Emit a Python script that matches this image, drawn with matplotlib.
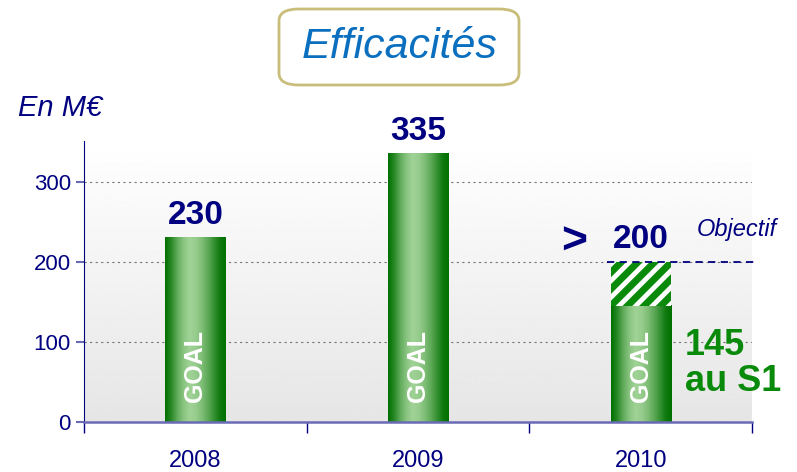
import numpy as np
import matplotlib
matplotlib.use('Agg')
import matplotlib.pyplot as plt
from matplotlib.patches import FancyBboxPatch, Rectangle

plt.rcParams['font.family'] = ['Liberation Sans', 'DejaVu Sans']
plt.rcParams['hatch.linewidth'] = 5

years = ['2008', '2009', '2010']
values = [230, 335, 145]
labels = ['230', '335', '200']
objectif = 200
s1_value = 145
yticks = [0, 100, 200, 300]

navy = '#000080'
axis_col = '#6b6bb5'

fig = plt.figure(figsize=(7.97, 4.72), dpi=100)
ax = fig.add_axes([84/797, 50/472, 668/797, 281/472])
ax.set_xlim(-0.5, 2.5)
ax.set_ylim(0, 351)

# background gradient (white at top -> light grey at bottom)
bg = np.linspace(0.90, 1.0, 256).reshape(-1, 1)
ax.imshow(bg, cmap='gray', vmin=0, vmax=1, extent=[-0.5, 2.5, 0, 351],
          origin='lower', aspect='auto', zorder=0)

for y in yticks[1:]:
    ax.axhline(y, color='#777777', ls=(0, (2, 3)), lw=0.8, zorder=1)

# green gradient for the bars
prof = np.array([0.0, 0.25, 0.6, 0.85, 1.0, 0.95, 0.8, 0.6, 0.35, 0.1, 0.0])
xs = np.linspace(0, 1, len(prof))
xx = np.linspace(0, 1, 200)
p = np.interp(xx, xs, prof)
dark = np.array([0, 112, 0]) / 255
light = np.array([160, 210, 150]) / 255
grad = (dark[None, :] * (1 - p[:, None]) + light[None, :] * p[:, None])[None, :, :]

w = 0.27
for i, v in enumerate(values):
    ax.imshow(grad, extent=[i - w/2, i + w/2, 0, v], aspect='auto', zorder=2)
    ax.text(i, 70, 'GOAL', rotation=90, color='white', fontsize=18,
            fontweight='bold', ha='center', va='center', zorder=4)

# hatched part of 2010 up to objective
ax.add_patch(Rectangle((2 - w/2, s1_value), w, objectif - s1_value,
                       facecolor='white', edgecolor='#0a8a0a', hatch='//',
                       lw=0, zorder=2))

for i, (v, t) in enumerate(zip([230, 335, 200], labels)):
    ax.text(i, v + 28, t, color=navy, fontsize=24, fontweight='bold',
            ha='center', va='center')

ax.text(1.70, 224, '>', color=navy, fontsize=32, fontweight='bold',
        ha='center', va='center')
ax.text(2.43, 240, 'Objectif', color=navy, fontsize=17, style='italic',
        ha='center', va='center', clip_on=False)
ax.plot([1.85, 2.52], [objectif, objectif], color=navy, ls=(0, (4, 3)),
        lw=1.3, clip_on=False, zorder=3)
ax.text(2.2, 95, '145', color='#0a8a0a', fontsize=26, fontweight='bold',
        ha='left', va='center')
ax.text(2.2, 50, 'au S1', color='#0a8a0a', fontsize=26, fontweight='bold',
        ha='left', va='center')

# axes styling
for s in ['top', 'right']:
    ax.spines[s].set_visible(False)
ax.spines['left'].set_color(navy)
ax.spines['bottom'].set_color(axis_col)
ax.spines['bottom'].set_linewidth(1.8)
ax.spines['bottom'].set_zorder(5)
ax.set_yticks(yticks)
ax.tick_params(axis='y', colors=axis_col, labelcolor=navy, labelsize=16,
               length=6, width=1.5)
ax.set_xticks([-0.5, 0.5, 1.5, 2.5])
ax.set_xticklabels([])
ax.tick_params(axis='x', colors=navy, length=8, width=1)
ax.set_xticks([0, 1, 2], minor=True)
ax.set_xticklabels(years, minor=True)
ax.tick_params(axis='x', which='minor', length=0, pad=20, labelsize=17,
               labelcolor=navy)

fig.text(18/797, 1 - 108/472, 'En M€', color=navy, fontsize=21,
         style='italic', ha='left', va='center')

# title box
box = FancyBboxPatch((279/797, 1 - 85/472), 240/797, 76/472,
                     boxstyle='round,pad=0,rounding_size=0.025',
                     transform=fig.transFigure, facecolor='white',
                     edgecolor='#c9bd7a', lw=2)
fig.patches.append(box)
fig.text(400/797, 1 - 47/472, 'Efficacités', color='#0a6fbf', fontsize=31,
         style='italic', ha='center', va='center')

fig.savefig('out.png', dpi=100)
